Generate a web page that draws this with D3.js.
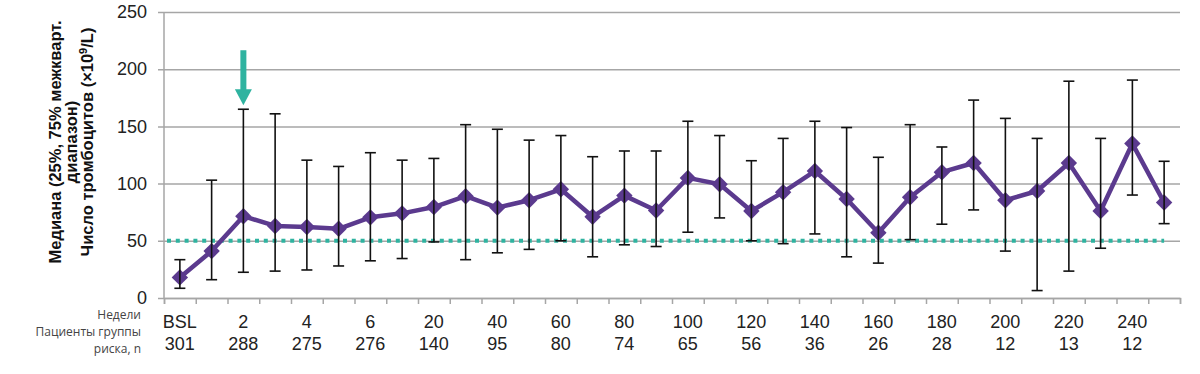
<!DOCTYPE html>
<html>
<head>
<meta charset="utf-8">
<script src="https://cdn.jsdelivr.net/npm/d3@7"></script>
<style>
    body { margin: 0; background: #fff; }
    svg { display: block; font-family: "Liberation Sans", Arial, sans-serif; }
</style>
</head>
<body>
<svg id="chart"></svg>
<script>
// data: median and 25% / 75% quartiles for each visit
const median = [18, 41, 71.5, 63, 62, 60.5, 70.5, 74, 79.5, 89, 79, 85.5, 95, 71, 89.5, 76.5,
    105, 99.5, 76, 92.5, 111, 86.5, 57, 88, 110, 118, 85.5, 93.5, 118, 76, 135, 83.5]
const q1 = [8.5, 16, 22.5, 23.5, 24.5, 28, 32.5, 34.5, 49, 33.5, 39.5, 42.5, 50, 36, 46.5, 45,
    57.5, 70, 50, 47.5, 56, 36, 30.5, 51, 64.5, 77, 41, 6.5, 23.5, 43.5, 90, 65]
const q3 = [33.5, 103, 165, 161, 120.5, 115, 127, 120.5, 122, 151.5, 147.5, 138, 142, 123.5, 128.5, 128.5,
    154.5, 142, 120, 139.5, 154.5, 149, 123, 151.5, 132, 173, 157, 139.5, 189.5, 139.5, 190.5, 119.5]

// labels under every second visit
const weekLabels = ["BSL", "2", "4", "6", "20", "40", "60", "80", "100", "120", "140", "160", "180", "200", "220", "240"]
const patientsAtRisk = ["301", "288", "275", "276", "140", "95", "80", "74", "65", "56", "36", "26", "28", "12", "13", "12"]
const rowTitles = ["Недели", "Пациенты группы", "риска, n"]
const yTicks = [0, 50, 100, 150, 200, 250]
const threshold = 50
const arrowAt = 2

const totalW = 1200
const totalH = 374
const margin = { top: 12, right: 20, bottom: 76, left: 164 }
const width = totalW - margin.left - margin.right
const height = totalH - margin.top - margin.bottom

const purple = "#5b3a8e"
const teal = "#2fb3a0"
const grid = "#a6a6a6"

const svg = d3.select("#chart")
    .attr("width", totalW)
    .attr("height", totalH)

const g = svg.append("g").attr("transform", `translate(${margin.left},${margin.top})`)

const idx = d3.range(median.length)
const x = d3.scaleBand().domain(idx).range([0, width]).padding(0)
const xb = d3.scaleLinear().domain([0, idx.length]).range([0, width])
const y = d3.scaleLinear().domain([0, 250]).range([height, 0])
const cx = i => x(i) + x.bandwidth() / 2

// y axis with gridlines (little ticks stick out left of the axis)
const yAxis = g.append("g")
    .attr("transform", "translate(-6,0)")
    .call(d3.axisLeft(y).tickValues(yTicks).tickSize(-(width + 6)).tickPadding(11))
yAxis.select(".domain").remove()
yAxis.selectAll("line").attr("stroke", grid).attr("stroke-width", 1.5)
yAxis.selectAll("text").attr("font-size", 18).attr("fill", "#222")

g.append("line")
    .attr("x1", 0).attr("x2", 0)
    .attr("y1", 0).attr("y2", height)
    .attr("stroke", grid).attr("stroke-width", 1.5)

// x axis, ticks between visits
const xAxis = g.append("g")
    .attr("transform", `translate(0,${height})`)
    .call(d3.axisBottom(xb).tickValues(d3.range(idx.length + 1)).tickSize(6).tickFormat(""))
xAxis.select(".domain").attr("stroke", grid).attr("stroke-width", 1.5)
xAxis.selectAll("line").attr("stroke", grid).attr("stroke-width", 1.5)

// threshold line
g.append("line")
    .attr("x1", 3).attr("x2", cx(idx.length - 1))
    .attr("y1", y(threshold)).attr("y2", y(threshold))
    .attr("stroke", teal).attr("stroke-width", 4)
    .attr("stroke-dasharray", "4,4.8")

// median line + markers
g.append("path")
    .datum(idx)
    .attr("fill", "none")
    .attr("stroke", purple)
    .attr("stroke-width", 4.5)
    .attr("stroke-linejoin", "round")
    .attr("d", d3.line().x(i => cx(i)).y(i => y(median[i])))

g.selectAll(".marker")
    .data(idx)
    .join("path")
    .attr("class", "marker")
    .attr("fill", purple)
    .attr("transform", i => `translate(${cx(i)},${y(median[i])}) rotate(45)`)
    .attr("d", d3.symbol(d3.symbolSquare, 135))

// error bars
const cap = 5.5
const bars = g.selectAll(".err").data(idx).join("g").attr("class", "err")
    .attr("stroke", "#111").attr("stroke-width", 1.6)
bars.append("line")
    .attr("x1", i => cx(i)).attr("x2", i => cx(i))
    .attr("y1", i => y(q1[i])).attr("y2", i => y(q3[i]))
bars.append("line")
    .attr("x1", i => cx(i) - cap).attr("x2", i => cx(i) + cap)
    .attr("y1", i => y(q3[i])).attr("y2", i => y(q3[i]))
bars.append("line")
    .attr("x1", i => cx(i) - cap).attr("x2", i => cx(i) + cap)
    .attr("y1", i => y(q1[i])).attr("y2", i => y(q1[i]))

// arrow over week 2
const ax = cx(arrowAt)
const tip = y(q3[arrowAt]) - 4
g.append("rect")
    .attr("x", ax - 3).attr("y", tip - 55)
    .attr("width", 6).attr("height", 40)
    .attr("fill", teal)
g.append("path")
    .attr("fill", teal)
    .attr("d", `M${ax - 8.5},${tip - 16}L${ax + 8.5},${tip - 16}L${ax},${tip}Z`)

// week / patients rows
const labelRows = g.append("g").attr("transform", `translate(0,${height})`)
labelRows.selectAll(".wk")
    .data(weekLabels)
    .join("text")
    .attr("class", "wk")
    .attr("x", (d, k) => cx(k * 2))
    .attr("y", 30)
    .attr("text-anchor", "middle")
    .attr("font-size", 18)
    .attr("fill", "#222")
    .text(d => d)
labelRows.selectAll(".pt")
    .data(patientsAtRisk)
    .join("text")
    .attr("class", "pt")
    .attr("x", (d, k) => cx(k * 2))
    .attr("y", 52)
    .attr("text-anchor", "middle")
    .attr("font-size", 18)
    .attr("fill", "#222")
    .text(d => d)

svg.selectAll(".rowtitle")
    .data(rowTitles)
    .join("text")
    .attr("class", "rowtitle")
    .attr("x", 141)
    .attr("y", (d, k) => 319 + k * 17)
    .attr("text-anchor", "end")
    .attr("font-family", "'Open Sans', sans-serif")
    .attr("font-size", 12)
    .attr("fill", "#444")
    .text(d => d)

// y title, three centred lines
const yTitle = svg.append("text")
    .attr("transform", "translate(61,142) rotate(-90)")
    .attr("text-anchor", "middle")
    .attr("font-size", 16.5)
    .attr("font-weight", "bold")
    .attr("fill", "#111")
yTitle.append("tspan").attr("x", 0).attr("dy", 0).text("Медиана (25%, 75% межкварт.")
yTitle.append("tspan").attr("x", 0).attr("dy", 16).text("диапазон)")
const l3 = yTitle.append("tspan").attr("x", 0).attr("dy", 16).text("Число тромбоцитов (×10")
l3.append("tspan").attr("font-size", 11).attr("dy", -6).text("9")
yTitle.append("tspan").attr("dy", 6).text("/L)")
</script>
</body>
</html>
